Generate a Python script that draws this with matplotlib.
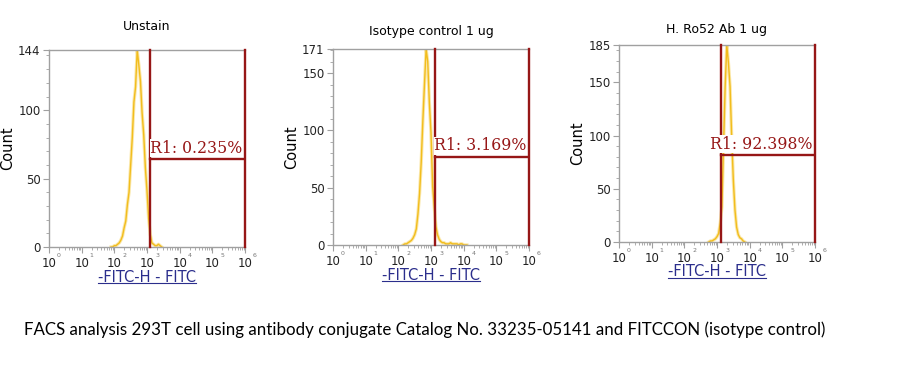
import numpy as np
import matplotlib
matplotlib.use("Agg")
import matplotlib.pyplot as plt
from matplotlib.ticker import FixedLocator, MultipleLocator, LogLocator, NullFormatter

# panel titles and gate results
titles = ["Unstain", "Isotype control 1 ug", "H. Ro52 Ab 1 ug"]
gate_pct = ["R1: 0.235%", "R1: 3.169%", "R1: 92.398%"]
y_max = [144, 171, 185]
y_ticks = [[0, 50, 100, 144], [0, 50, 100, 150, 171], [0, 50, 100, 150, 185]]

# gate: lower bound (log10 FITC) and marker height (count)
gate_lo = [3.09, 3.12, 3.12]
gate_y = [64, 77, 82]

# histogram counts, log10 bins of width 0.05 starting at hist_start
hist_step = 0.05
hist_start = [1.90, 2.15, 2.75]
counts_unstain = [0, 0, 1, 1, 2, 3, 5, 8, 14, 19, 31, 40, 60, 80, 106, 117,
                  144, 133, 121, 98, 82, 58, 41, 21, 9, 3, 2, 1, 1, 2, 1, 0]
counts_isotype = [0, 1, 1, 2, 3, 4, 6, 9, 14, 27, 45, 72, 108, 140, 171, 160,
                  124, 98, 51, 33, 16, 9, 5, 3, 2, 2, 1, 1, 1, 2, 1, 1, 1, 1,
                  0, 1, 1, 0, 0, 0]
counts_ro52 = [0, 1, 1, 2, 3, 5, 8, 18, 33, 90, 146, 185, 168, 146, 98, 58, 30,
               14, 7, 4, 3, 1, 0]
all_counts = [counts_unstain, counts_isotype, counts_ro52]

caption = ("FACS analysis 293T cell using antibody conjugate Catalog No. "
           "33235-05141 and FITCCON (isotype control)")

W, H = 909, 371
fig = plt.figure(figsize=(W / 100, H / 100), dpi=100)

# axes boxes in pixels: left, top, right, bottom
boxes = [(49, 50, 245, 247), (333, 49, 529, 245), (619, 45, 815, 242)]
title_y = [27, 32, 30]

red = "#961616"
grey = "#a0a0a0"
gold = "#f2bd1d"
blue = "#2b2e8c"

for i in range(3):
    l, t, r, b = boxes[i]
    ax = fig.add_axes([l / W, 1 - b / H, (r - l) / W, (b - t) / H])
    counts = np.array(all_counts[i])
    x = 10 ** (hist_start[i] + hist_step * np.arange(len(counts)))
    ax.plot(x, counts, color="#f8d870", lw=2.4, alpha=0.6, zorder=1)
    ax.plot(x, counts, color=gold, lw=1.0, zorder=2)

    ax.set_xscale("log")
    ax.set_xlim(1, 1e6)
    ax.set_ylim(0, y_max[i])

    # gate marker
    g = 10 ** gate_lo[i]
    ax.plot([g, g], [0, y_max[i]], color=red, lw=1.7, zorder=3, clip_on=False)
    ax.plot([1e6, 1e6], [0, y_max[i]], color=red, lw=1.7, zorder=3, clip_on=False)
    ax.plot([g, 1e6], [gate_y[i], gate_y[i]], color=red, lw=1.7, zorder=3)
    ax.text(10 ** 5.92, gate_y[i] + 2, gate_pct[i], color=red, fontsize=11.3,
            family="DejaVu Serif", ha="right", va="bottom", zorder=4,
            bbox=dict(facecolor="white", edgecolor="none", pad=0.2))

    for s in ["left", "top", "bottom"]:
        ax.spines[s].set_color(grey)
        ax.spines[s].set_linewidth(1.0)
    ax.spines["right"].set_visible(False)

    ax.yaxis.set_major_locator(FixedLocator(y_ticks[i]))
    ax.yaxis.set_minor_locator(MultipleLocator(10))
    ax.xaxis.set_minor_locator(LogLocator(base=10, subs=np.arange(2, 10), numticks=20))
    ax.xaxis.set_minor_formatter(NullFormatter())
    ax.set_xticks([10 ** k for k in range(7)])
    ax.set_xticklabels(["10"] * 7)
    ax.tick_params(axis="both", which="major", labelsize=8.5, color=grey, length=4,
                   width=0.8, labelcolor="#222222", pad=2)
    ax.tick_params(axis="x", which="major", pad=3)
    ax.tick_params(axis="both", which="minor", color=grey, length=2, width=0.6)
    # tiny exponents beside each "10"
    for k in range(7):
        ax.annotate(str(k), xy=(10 ** k, 0), xycoords=("data", "axes fraction"),
                    xytext=(5.8, -4.5), textcoords="offset points", fontsize=4.5,
                    color="#777777", ha="left", va="top", annotation_clip=False)
    ax.set_ylabel("Count", fontsize=10.5)
    ax.yaxis.set_label_coords(-0.173, 0.5)

    fig.text((l + r) / 2 / W, 1 - title_y[i] / H, titles[i], ha="center",
             va="center", fontsize=9)

    # underlined x label
    lab = fig.text((l + r) / 2 / W, 1 - (b + 30) / H, "-FITC-H - FITC",
                   ha="center", va="center", fontsize=10.5, color=blue)
    fig.canvas.draw()
    bb = lab.get_window_extent()
    fig.add_artist(plt.Line2D([bb.x0 / W, bb.x1 / W],
                              [(bb.y0 + 1.5) / H, (bb.y0 + 1.5) / H],
                              color=blue, lw=0.8))

fig.text(24 / W, 1 - 330 / H, caption, ha="left", va="center",
         fontsize=12.2, family="Lato", color="black")

fig.savefig("out.png", dpi=100, facecolor="white")
